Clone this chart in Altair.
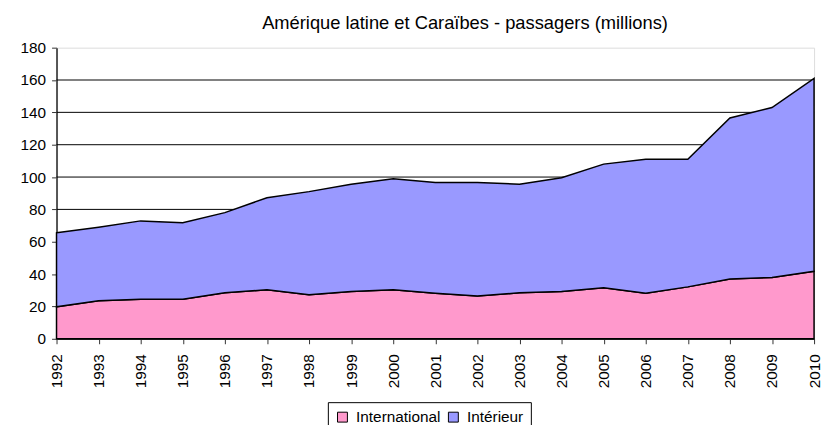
import altair as alt
import pandas as pd

years = list(range(1992, 2011))
international = [19.8, 23.5, 24.5, 24.5, 28.4, 30.3, 27.2, 29.3, 30.3, 28.2,
                 26.4, 28.4, 29.3, 31.5, 28.2, 32.1, 37.0, 37.9, 41.7]
interieur = [45.7, 45.5, 48.4, 47.3, 49.6, 56.9, 63.8, 66.3, 68.7, 68.4,
             70.2, 67.2, 70.3, 76.5, 82.8, 78.9, 99.5, 105.1, 119.3]
series = ["International", "Intérieur"]
colors = ["#FF99CC", "#9999FF"]
y_ticks = list(range(0, 181, 20))
grid_vals = list(range(20, 161, 20))
title = "Amérique latine et Caraïbes - passagers (millions)"

rows = []
for i, y in enumerate(years):
    rows.append({"annee": y, "serie": series[0], "ordre": 0, "valeur": international[i]})
    rows.append({"annee": y, "serie": series[1], "ordre": 1, "valeur": interieur[i]})
df = pd.DataFrame(rows)
grid_df = pd.DataFrame({"g": grid_vals})

FONT = "Liberation Sans"
yscale = alt.Scale(domain=[0, 180], nice=False)

grid = alt.Chart(grid_df).mark_rule(color="black", strokeWidth=1).encode(
    y=alt.Y("g:Q", scale=yscale, axis=None)
)

area = alt.Chart(df).mark_area(
    stroke="black", strokeWidth=1.5, opacity=1
).encode(
    x=alt.X("annee:Q",
            scale=alt.Scale(domain=[1992, 2010], nice=False, zero=False),
            axis=alt.Axis(values=years, format="d", title=None, labelAngle=270,
                          tickSize=5, labelPadding=10, grid=False,
                          domainColor="#333333", domainWidth=1.5,
                          tickColor="#333333", labelFontSize=15.5,
                          labelColor="black", labelFont=FONT, labelFlush=False)),
    y=alt.Y("valeur:Q", stack="zero", scale=yscale,
            axis=alt.Axis(values=y_ticks, title=None, tickSize=5, labelPadding=6,
                          grid=False, domainColor="#555555", domainWidth=2,
                          tickColor="#333333", labelFontSize=15.5,
                          labelColor="black", labelFont=FONT,
                          labelOverlap=False, labelFlush=False)),
    color=alt.Color("serie:N",
                    scale=alt.Scale(domain=series, range=colors),
                    legend=alt.Legend(title=None, orient="none", legendX=274, legendY=358,
                                      direction="horizontal", symbolType="square",
                                      symbolSize=100, symbolStrokeColor="black",
                                      symbolStrokeWidth=1, symbolOpacity=1,
                                      labelFontSize=15.5, labelFont=FONT,
                                      labelColor="black", labelOffset=6,
                                      columnPadding=5, padding=7,
                                      strokeColor="black", fillColor="white")),
    order=alt.Order("ordre:Q"),
)

chart = alt.layer(grid, area).resolve_axis(y="independent").properties(
    width=765, height=294,
    title=alt.TitleParams(title, font=FONT, fontSize=18.5, fontWeight="normal",
                          color="black", anchor="middle", dx=30, offset=-7,
                          baseline="alphabetic"),
    autosize=alt.AutoSizeParams(type="none"),
    padding={"left": 49, "top": 38, "right": 7, "bottom": 85},
).configure_view(stroke="#808080", strokeWidth=1.5).configure(font=FONT)

chart.save("out.html", embed_options={"renderer": "svg", "actions": False})
